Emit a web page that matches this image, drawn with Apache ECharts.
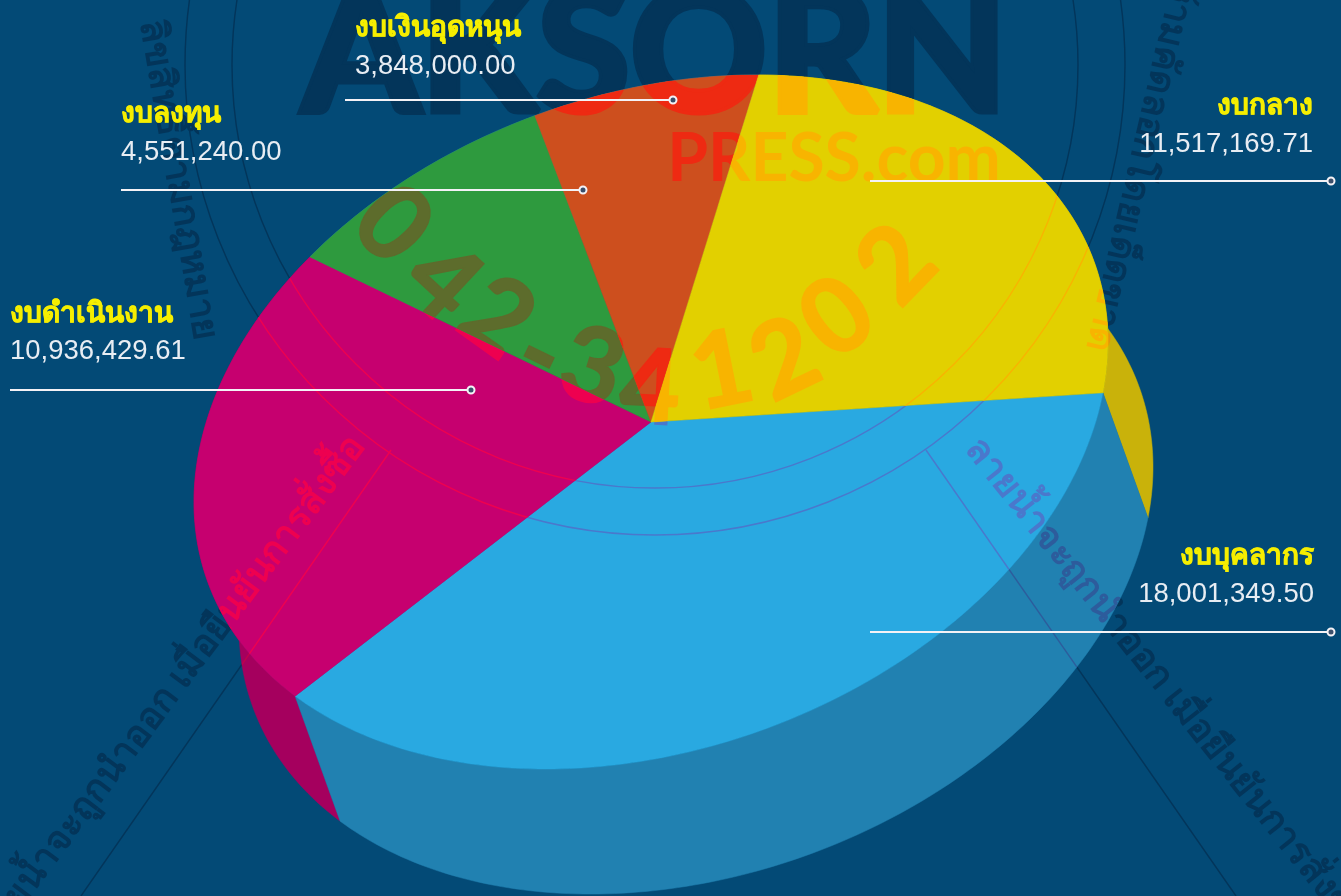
<!DOCTYPE html>
<html><head><meta charset="utf-8">
<style>html,body{margin:0;padding:0;background:#034a76;overflow:hidden}#c{width:1341px;height:896px}</style>
<script src="https://cdn.jsdelivr.net/npm/echarts@6/dist/echarts.min.js"></script>
</head><body><div id="c"></div>
<script>
const categories = ['งบบุคลากร','งบดำเนินงาน','งบลงทุน','งบเงินอุดหนุน','งบกลาง'];
const values = [18001349.50,10936429.61,4551240.00,3848000.00,11517169.71];
const topColors = ['#29a9e1','#c6006f','#2e9a3e','#cd4f1e','#e2d000'];
const wallColors = ['#2181b1','#a5005e','#2181b1','#2181b1','#c9b20a'];
const stampOnTop = ['#4a78cc','#ee0050','#5d6c2c','#ee2a12','#f8b400'];
const stampOnWall = ['#2d5c9c','#c0004c','#2d5c9c','#2d5c9c','#e8920a'];
const stampOnBg = '#03355a';

// label layout: [label x, label y, value y, line x0, line x1, line y, align]
const labelLayout = [
  [1314,556,594,870,1331,632,'right'],
  [10,314,351,10,471,390,'left'],
  [121,114,152,121,583,190,'left'],
  [355,28,66,345,673,100,'left'],
  [1313,106,144,870,1331,181,'right']
];

const PIE = {cx:651, cy:422, ax:457, bx:-80, by:337.7, start:8.5, dx:45, dy:125};
const total = values.reduce((a,b)=>a+b,0);
const ptOn = (deg,ox,oy) => {
  const t = deg*Math.PI/180;
  return [PIE.cx+PIE.ax*Math.cos(t)+(ox||0), PIE.cy+PIE.bx*Math.cos(t)+PIE.by*Math.sin(t)+(oy||0)];
};
const arc = (a0,a1,ox,oy) => {
  const n = Math.max(2,Math.ceil(a1-a0)), r=[];
  for(let i=0;i<=n;i++) r.push(ptOn(a0+(a1-a0)*i/n,ox,oy));
  return r;
};
function span(idx){
  let before=0; for(let i=0;i<idx;i++) before+=values[i];
  return [PIE.start+before/total*360, PIE.start+(before+values[idx])/total*360];
}
const FONT_THAI = '"Noto Sans","DejaVu Sans",sans-serif';
const DIGIT = 'bold 104px Lato, sans-serif';
const THAI_MARK = 'bold 37px '+FONT_THAI;
const stampTexts = [
  {t:'AKSORN',x:655,y:56,r:0,f:'bold 170px Lato, "Open Sans", sans-serif',w:7},
  {t:'PRESS.com',x:834,y:160,r:0,f:'bold 66px "Liberation Sans Narrow", Lato, sans-serif',pieOnly:true},
  {t:'0',x:392,y:225,r:-0.8,f:DIGIT,pieOnly:true,w:2},
  {t:'4',x:442,y:282,r:-0.75,f:DIGIT,pieOnly:true,w:2},
  {t:'2',x:497,y:318,r:-0.62,f:DIGIT,pieOnly:true,w:2},
  {t:'-',x:540,y:355,r:-0.45,f:DIGIT,pieOnly:true,w:2},
  {t:'3',x:592,y:368,r:-0.3,f:DIGIT,pieOnly:true,w:2},
  {t:'4',x:650,y:390,r:-0.05,f:DIGIT,pieOnly:true,w:2},
  {t:'1',x:722,y:372,r:0.2,f:DIGIT,pieOnly:true,w:2},
  {t:'2',x:785,y:360,r:0.45,f:DIGIT,pieOnly:true,w:2},
  {t:'0',x:838,y:318,r:0.65,f:DIGIT,pieOnly:true,w:2},
  {t:'2',x:897,y:265,r:0.8,f:DIGIT,pieOnly:true,w:2},
  {t:'ลายน้ำจะถูกนำออก เมื่อยืนยันการสั่งซื้อ',x:972,y:442,r:-0.9,a:'left',f:THAI_MARK},
  {t:'ลายน้ำจะถูกนำออก เมื่อยืนยันการสั่งซื้อ',x:358,y:440,r:0.93,a:'right',f:THAI_MARK},
  {t:'ลิขสิทธิ์ตามกฎหมาย',x:178,y:180,r:-1.4,f:THAI_MARK},
  {t:'ห้ามคัดลอกโดยเด็ดขาด',x:1140,y:165,r:-1.8,f:THAI_MARK}
];
function stamp(color,inPie){
  const out=[];
  stampTexts.forEach(s=>{
    if(s.pieOnly && !inPie) return;
    const st={text:s.t,fill:color,font:s.f,align:s.a||'center',verticalAlign:'middle'};
    if(s.w){st.stroke=color;st.lineWidth=s.w;}
    out.push({type:'text',x:s.x,y:s.y,rotation:s.r,silent:true,style:st});
  });
  [423,470].forEach(r=>out.push({type:'circle',silent:true,shape:{cx:655,cy:65,r},style:{fill:'none',stroke:color,lineWidth:1.4}}));
  [[391,450,81,896],[926,450,1236,896]].forEach(l=>out.push({type:'line',silent:true,shape:{x1:l[0],y1:l[1],x2:l[2],y2:l[3]},style:{stroke:color,lineWidth:1.4}}));
  return out;
}
const wallData = values.map((v,i)=>[v,i]).reverse();
const topData = values.map((v,i)=>[v,i]);
const graphicEls = [];
stamp(stampOnBg,false).forEach(e=>{e.z=-10; graphicEls.push(e);});
values.forEach((v,i)=>{
  const L=labelLayout[i], str=v.toLocaleString('en-US',{minimumFractionDigits:2,maximumFractionDigits:2});
  graphicEls.push({type:'line',z:50,silent:true,shape:{x1:L[3],y1:L[5],x2:L[4],y2:L[5]},style:{stroke:'#f4f2f6',lineWidth:2}});
  graphicEls.push({type:'circle',z:51,silent:true,shape:{cx:L[4],cy:L[5],r:3.5},style:{fill:'#3b4f6b',stroke:'#f4f2f6',lineWidth:2}});
  graphicEls.push({type:'text',z:52,silent:true,x:L[0],y:L[1],style:{text:categories[i],fill:'#f6ee00',stroke:'#f6ee00',lineWidth:0.7,font:'bold 28px '+FONT_THAI,align:L[6],verticalAlign:'middle'}});
  graphicEls.push({type:'text',z:52,silent:true,x:L[0],y:L[2],style:{text:str,fill:'#e8edf3',font:'27.5px "Liberation Sans",Arial,sans-serif',align:L[6],verticalAlign:'middle'}});
});
const chart = echarts.init(document.getElementById('c'),null,{renderer:'canvas'});
chart.setOption({
  backgroundColor:'#034a76',
  animation:false,
  graphic:{elements:graphicEls},
  series:[
    {type:'custom',name:'wall',coordinateSystem:'none',z:2,silent:true,data:wallData,
     renderItem(p,api){
       const i=api.value(1), [a0,a1]=span(i);
       const poly=arc(a0,a1,0,0).concat(arc(a0,a1,PIE.dx,PIE.dy).reverse());
       return {type:'group',children:[
         {type:'polygon',shape:{points:poly},style:{fill:wallColors[i],stroke:wallColors[i],lineWidth:0.5}},
         {type:'group',clipPath:{type:'polygon',shape:{points:poly}},children:stamp(stampOnWall[i],true)}
       ]};
     }},
    {type:'custom',name:'top',coordinateSystem:'none',z:3,silent:true,data:topData,
     renderItem(p,api){
       const i=api.value(1), [a0,a1]=span(i);
       const poly=[[PIE.cx,PIE.cy]].concat(arc(a0,a1,0,0));
       return {type:'group',children:[
         {type:'polygon',shape:{points:poly},style:{fill:topColors[i],stroke:topColors[i],lineWidth:0.5}},
         {type:'group',clipPath:{type:'polygon',shape:{points:poly}},children:stamp(stampOnTop[i],true)}
       ]};
     }}
  ]
});
</script></body></html>
